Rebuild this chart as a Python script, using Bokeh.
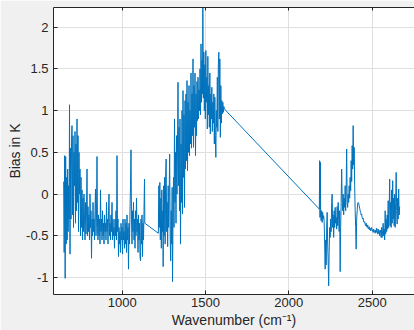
import numpy as np
from bokeh.plotting import figure
from bokeh.models import LinearAxis, FixedTicker, Range1d
from bokeh.embed import file_html
from bokeh.resources import INLINE

# ---- data ----
wn_band1 = [649, 652, 655, 658, 661, 664, 667, 670, 673, 676, 679, 682, 684, 687, 690, 693, 696, 699,
            702, 705, 708, 711, 714, 717, 720, 723, 726, 729, 732, 735, 738, 741, 744, 747, 750, 753,
            756, 759, 762, 765, 768, 771, 774, 777, 780, 783, 786, 789, 792, 795, 798, 801, 804, 807,
            810, 813, 816, 819, 822, 825, 828, 831, 834, 837, 840, 843, 846, 849, 852, 855, 858, 861,
            864, 867, 870, 873, 876, 879, 882, 885, 888, 891, 894, 897, 900, 903, 906, 909, 912, 915,
            918, 921, 924, 927, 930, 933, 936, 939, 942, 945, 948, 951, 954, 957, 960, 963, 966, 969,
            972, 975, 978, 981, 984, 987, 990, 993, 996, 999, 1002, 1005, 1008, 1011, 1014, 1017, 1020,
            1023, 1026, 1029, 1032, 1035, 1038, 1041, 1044, 1047, 1050, 1053, 1056, 1059, 1062, 1065,
            1068, 1071, 1074, 1077, 1080, 1083, 1086, 1089, 1092, 1095, 1098, 1101, 1104, 1107, 1110,
            1113, 1116, 1119, 1122, 1125, 1128, 1131, 1134, 1136]
bias_band1 = [0.15, -0.70, 0.46, -1.01, 0.45, -0.60, 0.20, -0.55, 0.30, -0.45, 0.10, -0.30, 1.07, -0.72,
              0.55, -0.30, 0.62, 0.82, -0.25, 0.70, -0.40, 0.50, 0.10, 0.75, -0.35, 0.60, -0.20, 0.90,
              -0.10, 0.70, -0.45, 0.50, 0.00, 0.30, -0.50, 0.20, -0.40, 0.05, -0.55, -0.05, -0.45, 0.00,
              -0.30, -0.55, -0.10, -0.48, -0.20, 0.30, -0.50, -0.15, -0.45, -0.25, -0.55, 0.00, -0.40,
              -0.20, -0.77, -0.30, -0.50, -0.10, -0.45, -0.30, -0.55, -0.20, 0.06, -0.50, -0.25, 0.45,
              -0.40, -0.55, -0.25, -0.50, -0.30, -0.60, 0.05, -0.45, -0.30, -0.55, -0.20, -0.50, -0.35,
              -0.60, -0.25, -0.45, -0.35, -0.55, -0.10, -0.45, -0.30, -0.60, -0.20, 0.00, -0.50, -0.35,
              -0.55, -0.25, -0.45, -0.10, -0.55, -0.30, -0.50, -0.40, -0.65, -0.30, -0.50, -0.20, -0.55,
              0.46, -0.45, -0.30, -0.75, -0.40, -0.60, -0.45, -0.70, -0.35, -0.55, -0.40, -0.72, -0.30,
              -0.55, -0.45, -0.65, -0.30, -0.60, -0.35, -0.70, -0.25, -0.55, -0.40, -0.90, -0.35, -0.60,
              -0.20, 0.10, 0.53, -0.30, -0.60, -0.20, -0.45, -0.10, -0.55, -0.30, -0.65, -0.20, -0.50,
              -0.05, -0.45, -0.30, -0.70, -0.25, -0.55, -0.35, -0.75, -0.80, -0.30, -0.60, -0.25, -0.75,
              -0.35, -0.55, -0.20, 0.18, -0.35]

wn_band2 = [1217, 1220, 1223, 1226, 1229, 1232, 1235, 1238, 1241, 1244, 1246, 1249, 1252, 1255, 1258,
            1261, 1264, 1267, 1270, 1273, 1276, 1279, 1282, 1285, 1288, 1291, 1294, 1297, 1300, 1302,
            1305, 1308, 1311, 1314, 1317, 1320, 1323, 1326, 1329, 1332, 1335, 1338, 1341, 1344, 1347,
            1350, 1353, 1356, 1359, 1362, 1365, 1368, 1371, 1374, 1377, 1380, 1383, 1386, 1389, 1392,
            1395, 1398, 1401, 1404, 1407, 1410, 1413, 1416, 1419, 1422, 1425, 1428, 1431, 1434, 1437,
            1440, 1443, 1446, 1449, 1452, 1455, 1458, 1461, 1464, 1467, 1470, 1473, 1476, 1479, 1482,
            1484, 1487, 1490, 1493, 1496, 1499, 1502, 1505, 1508, 1511, 1514, 1517, 1520, 1523, 1526,
            1529, 1532, 1535, 1538, 1541, 1544, 1547, 1550, 1553, 1556, 1559, 1562, 1565, 1568, 1571,
            1574, 1577, 1580, 1583, 1586, 1589, 1592, 1595, 1598, 1601, 1604, 1607, 1610, 1613]
bias_band2 = [-0.47, 0.10, -0.40, 0.14, -0.55, -0.05, -0.65, 0.05, -0.45, -0.20, -0.87, 0.10, -0.50,
              0.20, -0.60, 0.24, 0.42, -0.45, -0.10, -0.63, 0.10, -0.40, 0.00, 0.48, -0.50, -0.80,
              -0.20, -0.60, 0.08, -1.05, -0.30, 0.20, -0.40, 0.90, -0.10, 0.50, -0.35, 0.70, 0.00,
              0.60, 1.34, 0.10, 0.80, -0.20, 0.90, -0.60, 0.60, -0.10, 1.00, -0.24, 1.24, 0.20, 0.95,
              -0.16, 1.12, 0.30, 1.20, 0.40, 1.36, 0.28, 1.10, 0.50, 1.30, 0.46, 1.00, 0.60, 1.45,
              0.55, 1.20, 0.70, 1.62, 0.56, 1.30, 0.80, 1.45, 0.46, 1.20, 0.70, 1.35, 0.88, 1.40,
              0.90, 1.25, 1.00, 1.50, 0.95, 1.80, 1.10, 1.60, 1.20, 2.24, 1.15, 1.70, 1.00, 1.55,
              0.90, 1.72, 1.10, 1.40, 0.78, 1.65, 0.95, 1.30, 0.80, 1.45, 0.72, 1.20, 0.90, 1.28,
              0.75, 1.10, 0.85, 1.20, 0.60, 1.16, 0.70, 0.44, 1.00, 0.80, 1.40, 0.75, 1.55, 1.70,
              0.90, 1.62, 0.68, 1.30, 0.85, 1.12, 0.96, 1.10, 0.98, 1.05, 1.02]

wn_band3 = [2183, 2185, 2187, 2189, 2191, 2194, 2197, 2200, 2203, 2206, 2209, 2212, 2215, 2218, 2221,
            2224, 2227, 2230, 2233, 2236, 2239, 2242, 2245, 2248, 2251, 2254, 2257, 2260, 2263, 2266,
            2269, 2272, 2275, 2278, 2281, 2284, 2287, 2290, 2293, 2296, 2299, 2302, 2305, 2308, 2311,
            2314, 2317, 2320, 2323, 2326, 2329, 2332, 2335, 2338, 2341, 2344, 2347, 2350, 2353, 2356,
            2359, 2362, 2365, 2368, 2371, 2374, 2377, 2380, 2383, 2386, 2389, 2392, 2395, 2398, 2401,
            2404, 2407, 2410, 2413, 2416, 2419, 2422, 2425, 2428, 2431, 2434, 2437, 2440, 2443, 2446,
            2449, 2452, 2455, 2458, 2461, 2464, 2467, 2470, 2473, 2476, 2479, 2482, 2485, 2488, 2491,
            2494, 2497, 2500, 2503, 2506, 2509, 2512, 2515, 2518, 2521, 2524, 2527, 2530, 2533, 2536,
            2539, 2542, 2545, 2548, 2551, 2554, 2557, 2560, 2563, 2566, 2569, 2572, 2575, 2578, 2581,
            2584, 2587, 2590, 2593, 2596, 2599, 2602, 2605, 2608, 2611, 2614, 2617, 2620, 2623, 2626,
            2629, 2632, 2635, 2638, 2641, 2644, 2647, 2650, 2653, 2656, 2659, 2662, 2665]
bias_band3 = [-0.18, 0.40, -0.28, 0.38, -0.25, -0.32, -0.20, -0.34, -0.22, -0.30, -0.26, -0.33, -0.60,
              -0.90, -0.55, -0.85, -0.40, -0.22, -0.60, -0.80, -1.10, -0.70, -0.40, -0.52, -0.30,
              -0.45, -0.10, 0.00, -0.40, -0.25, -0.52, -0.20, -0.40, -0.16, -0.35, -0.28, -0.42,
              -0.15, -0.38, -0.10, -0.30, -0.45, -0.20, -0.93, -0.40, -0.10, 0.30, -0.05, -0.20,
              0.00, -0.25, -0.05, -0.16, 0.10, -0.20, 0.05, 0.54, -0.10, -0.16, 0.00, -0.10, 0.10,
              -0.05, 0.20, 0.04, 0.40, 0.15, 0.58, 0.30, 0.82, 0.35, 0.56, 0.10, -0.20, -0.40, -0.66,
              -0.30, -0.20, -0.12, -0.10, -0.11, -0.14, -0.17, -0.20, -0.22, -0.25, -0.24, -0.28,
              -0.30, -0.29, -0.33, -0.34, -0.33, -0.36, -0.38, -0.35, -0.39, -0.40, -0.37, -0.41,
              -0.42, -0.39, -0.43, -0.41, -0.44, -0.42, -0.40, -0.44, -0.43, -0.46, -0.42, -0.45,
              -0.44, -0.47, -0.43, -0.46, -0.41, -0.45, -0.48, -0.42, -0.47, -0.44, -0.50, -0.43,
              -0.46, -0.52, -0.40, -0.52, -0.44, -0.35, -0.50, -0.42, -0.55, -0.20, -0.48, -0.30,
              -0.45, -0.25, -0.42, -0.08, -0.40, -0.20, 0.18, -0.38, -0.10, -0.40, 0.05, -0.35, 0.16,
              -0.30, -0.05, -0.38, 0.00, -0.40, -0.10, 0.26, -0.20, -0.36, -0.05, -0.30, 0.06, -0.25,
              -0.15]

x_ticks = [1000, 1500, 2000, 2500]
x_tick_labels = ["1000", "1500", "2000", "2500"]
y_ticks = [-1, -0.5, 0, 0.5, 1, 1.5, 2]
y_tick_labels = ["-1", "-0.5", "0", "0.5", "1", "1.5", "2"]

wn = np.concatenate([wn_band1, wn_band2, wn_band3])
bias = np.concatenate([bias_band1, bias_band2, bias_band3])

FONT = "Liberation Sans"
TXT = "#262626"

p = figure(width=414, height=330, output_backend="svg", toolbar_location=None,
           x_range=Range1d(588, 2754), y_range=Range1d(-1.204, 2.236),
           min_border_left=53, min_border_right=0, min_border_top=7, min_border_bottom=36,
           background_fill_color="white", border_fill_color="#f0f0f0",
           outline_line_color=None)

p.line(wn, bias, line_color="#0072BD", line_width=1)

for ax in (p.xaxis[0], p.yaxis[0]):
    ax.major_tick_in = 4
    ax.major_tick_out = 0
    ax.minor_tick_line_color = None
    ax.axis_line_color = TXT
    ax.major_tick_line_color = TXT
    ax.major_label_text_font = FONT
    ax.major_label_text_font_size = "13px"
    ax.major_label_text_color = TXT
    ax.axis_label_text_font = FONT
    ax.axis_label_text_font_size = "14px"
    ax.axis_label_text_font_style = "normal"
    ax.axis_label_text_color = TXT

p.xaxis.ticker = FixedTicker(ticks=x_ticks)
p.xaxis.major_label_overrides = dict(zip(x_ticks, x_tick_labels))
p.yaxis.ticker = FixedTicker(ticks=y_ticks)
p.yaxis.major_label_overrides = dict(zip(y_ticks, y_tick_labels))
p.xaxis.axis_label = "Wavenumber (cm\u207b\u00b9)"
p.yaxis.axis_label = "Bias in K"
p.xaxis.major_label_standoff = 3
p.xaxis.axis_label_standoff = 2
p.yaxis.major_label_standoff = 5
p.yaxis.axis_label_standoff = 0

# top box edge with inward ticks, labels not drawn
top = LinearAxis(ticker=FixedTicker(ticks=x_ticks), major_tick_in=3, major_tick_out=0,
                 minor_tick_line_color=None, axis_line_color=TXT, major_tick_line_color=TXT,
                 major_label_text_font_size="1px", major_label_text_color=None,
                 major_label_standoff=0)
p.add_layout(top, "above")

p.xgrid.ticker = FixedTicker(ticks=x_ticks)
p.ygrid.ticker = FixedTicker(ticks=y_ticks)
p.grid.grid_line_color = "#dfdfdf"
p.grid.grid_line_width = 1

open("out.html", "w").write(file_html(p, INLINE))
